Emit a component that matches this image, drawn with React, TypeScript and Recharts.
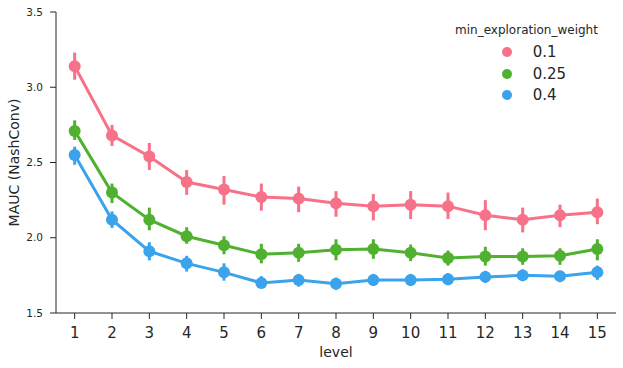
import {
  ErrorBar,
  Label,
  Line,
  LineChart,
  XAxis,
  YAxis,
} from "recharts";

const levels = [1, 2, 3, 4, 5, 6, 7, 8, 9, 10, 11, 12, 13, 14, 15];

// min_exploration_weight = 0.1
const w01Mean = [3.14, 2.68, 2.54, 2.37, 2.32, 2.27, 2.26, 2.23, 2.21, 2.22, 2.21, 2.15, 2.12, 2.15, 2.17];
const w01Low = [3.05, 2.61, 2.45, 2.285, 2.22, 2.18, 2.17, 2.14, 2.115, 2.125, 2.125, 2.05, 2.035, 2.07, 2.09];
const w01High = [3.23, 2.75, 2.63, 2.45, 2.41, 2.36, 2.34, 2.31, 2.29, 2.31, 2.3, 2.25, 2.2, 2.22, 2.26];

// min_exploration_weight = 0.25
const w025Mean = [2.71, 2.3, 2.12, 2.01, 1.95, 1.89, 1.9, 1.92, 1.925, 1.9, 1.865, 1.875, 1.875, 1.88, 1.925];
const w025Low = [2.65, 2.23, 2.05, 1.96, 1.89, 1.83, 1.84, 1.85, 1.86, 1.845, 1.815, 1.815, 1.82, 1.82, 1.85];
const w025High = [2.78, 2.36, 2.2, 2.07, 2.01, 1.96, 1.96, 1.99, 1.99, 1.955, 1.915, 1.94, 1.93, 1.93, 1.99];

// min_exploration_weight = 0.4
const w04Mean = [2.55, 2.12, 1.91, 1.83, 1.77, 1.7, 1.72, 1.695, 1.72, 1.72, 1.725, 1.74, 1.75, 1.745, 1.77];
const w04Low = [2.485, 2.065, 1.85, 1.775, 1.715, 1.665, 1.675, 1.655, 1.68, 1.68, 1.685, 1.7, 1.715, 1.705, 1.72];
const w04High = [2.605, 2.175, 1.97, 1.88, 1.83, 1.745, 1.76, 1.735, 1.76, 1.76, 1.765, 1.78, 1.79, 1.78, 1.815];

const yTicks = [1.5, 2.0, 2.5, 3.0, 3.5];

const series = [
  { key: "w01", name: "0.1", color: "#f77189", mean: w01Mean, low: w01Low, high: w01High },
  { key: "w025", name: "0.25", color: "#50b131", mean: w025Mean, low: w025Low, high: w025High },
  { key: "w04", name: "0.4", color: "#3ba3ec", mean: w04Mean, low: w04Low, high: w04High },
];

const data = levels.map((level, i) => {
  const row: Record<string, number | number[]> = { level };
  series.forEach((s) => {
    row[s.key] = s.mean[i];
    row[s.key + "Err"] = [s.mean[i] - s.low[i], s.high[i] - s.mean[i]];
  });
  return row;
});

const FONT = "'DejaVu Sans', sans-serif";
const INK = "#262626";

function LegendBox() {
  return (
    <div
      style={{
        position: "absolute",
        top: 22,
        left: 455,
        width: 160,
        fontFamily: FONT,
        color: INK,
      }}
    >
      <div style={{ fontSize: 12, lineHeight: "17px", height: 17, marginBottom: 2.6 }}>
        min_exploration_weight
      </div>
      {series.map((s) => (
        <div
          key={s.key}
          style={{ display: "flex", alignItems: "center", height: 21.3, fontSize: 15 }}
        >
          <span
            style={{
              display: "inline-block",
              width: 10,
              height: 10,
              borderRadius: "50%",
              background: s.color,
              marginLeft: 46.7,
            }}
          />
          <span style={{ marginLeft: 21 }}>{s.name}</span>
        </div>
      ))}
    </div>
  );
}

export default function App() {
  return (
    <div style={{ position: "absolute", left: 0, top: 0, width: 623, height: 368, background: "#fff" }}>
      <LineChart
        width={623}
        height={368}
        data={data}
        margin={{ top: 12, right: 7, bottom: 0, left: 0 }}
      >
        <XAxis
          dataKey="level"
          type="number"
          domain={[0.5, 15.5]}
          ticks={levels}
          interval={0}
          height={55}
          stroke={INK}
          tickSize={6}
          tickMargin={8}
          tick={{ fontSize: 15, fill: INK, fontFamily: FONT }}
        >
          <Label
            value="level"
            position="insideBottom"
            offset={11}
            style={{ fontSize: 14, fill: INK, fontFamily: FONT }}
          />
        </XAxis>
        <YAxis
          type="number"
          domain={[1.5, 3.5]}
          ticks={yTicks}
          allowDataOverflow
          width={56}
          stroke={INK}
          tickSize={6}
          tickMargin={7}
          tickFormatter={(v: number) => v.toFixed(1)}
          tick={{ fontSize: 10.5, fill: INK, fontFamily: FONT }}
        >
          <Label
            content={({ viewBox }: any) => {
              const cx = 14;
              const cy = viewBox.y + viewBox.height / 2;
              return (
                <text
                  x={cx}
                  y={cy}
                  transform={`rotate(-90, ${cx}, ${cy})`}
                  textAnchor="middle"
                  dominantBaseline="central"
                  style={{ fontSize: 14, fill: INK, fontFamily: FONT }}
                >
                  MAUC (NashConv)
                </text>
              );
            }}
          />
        </YAxis>
        {series.map((s) => (
          <Line
            key={s.key}
            dataKey={s.key}
            name={s.name}
            type="linear"
            stroke={s.color}
            strokeWidth={3}
            dot={{ r: 6, fill: s.color, stroke: s.color, strokeWidth: 0 }}
            activeDot={false}
            isAnimationActive={false}
          >
            <ErrorBar
              dataKey={s.key + "Err"}
              direction="y"
              width={0}
              stroke={s.color}
              strokeWidth={3}
            />
          </Line>
        ))}
      </LineChart>
      <LegendBox />
    </div>
  );
}
